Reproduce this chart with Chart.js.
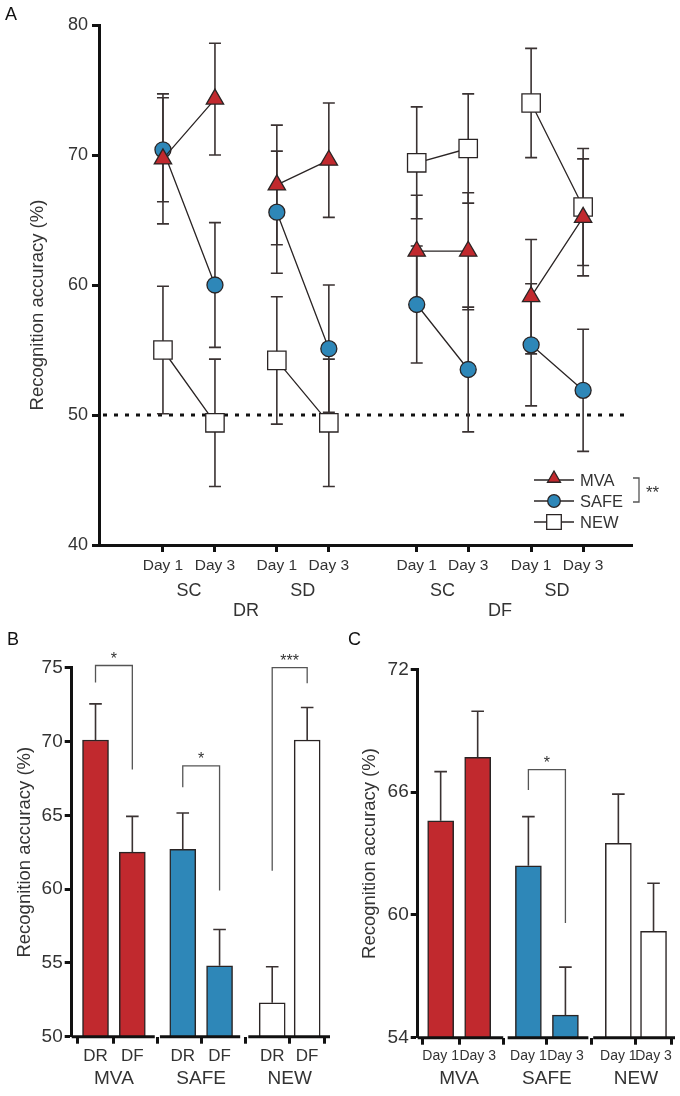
<!DOCTYPE html>
<html>
<head>
<meta charset="utf-8">
<title>Recognition accuracy</title>
<script src="https://cdn.jsdelivr.net/npm/chart.js@4.4.0/dist/chart.umd.min.js"></script>
<style>
  html, body { margin: 0; padding: 0; background: #fff; }
  #wrap { position: relative; width: 680px; height: 1096px; overflow: hidden; }
  .panel { position: absolute; }
  .plabel { position: absolute; font: 18px "Liberation Sans", Arial, sans-serif; color: #111; line-height: 1; }
</style>
</head>
<body>
<div id="wrap">
  <canvas id="chartA" class="panel" width="680" height="625" style="left:0px;top:0px"></canvas>
  <canvas id="chartB" class="panel" width="340" height="476" style="left:0px;top:620px"></canvas>
  <canvas id="chartC" class="panel" width="340" height="476" style="left:340px;top:620px"></canvas>
  <div class="plabel" style="left:5px;top:5px">A</div>
  <div class="plabel" style="left:7px;top:630px">B</div>
  <div class="plabel" style="left:348px;top:630px">C</div>
</div>
<script>
/* ---------- data ---------- */
// Panel A: 8 conditions (DR SC, DR SD, DF SC, DF SD x Day 1 / Day 3)
var aDays = ['Day 1', 'Day 3', 'Day 1', 'Day 3', 'Day 1', 'Day 3', 'Day 1', 'Day 3'];
var aSub = ['SC', 'SD', 'SC', 'SD'];
var aGroups = ['DR', 'DF'];
var aMva = [69.7, 74.3, 67.7, 69.6, 62.6, 62.6, 59.1, 65.2];
var aMvaErr = [5.0, 4.3, 4.6, 4.4, 4.3, 4.5, 4.4, 4.5];
var aSafe = [70.4, 60.0, 65.6, 55.1, 58.5, 53.5, 55.4, 51.9];
var aSafeErr = [4.0, 4.8, 4.7, 4.9, 4.5, 4.8, 4.7, 4.7];
var aNew = [55.0, 49.4, 54.2, 49.4, 69.4, 70.5, 74.0, 66.0];
var aNewErr = [4.9, 4.9, 4.9, 4.9, 4.3, 4.2, 4.2, 4.5];
var aYTicks = [40, 50, 60, 70, 80];
var chance = 50;
var yTitle = 'Recognition accuracy (%)';

// Panel B: DR vs DF
var bGroups = ['MVA', 'SAFE', 'NEW'];
var bLabels = ['DR', 'DF', 'DR', 'DF', 'DR', 'DF'];
var bVals = [70.1, 62.5, 62.7, 54.8, 52.3, 70.1];
var bErr = [2.45, 2.43, 2.46, 2.46, 2.44, 2.2];
var bYTicks = [50, 55, 60, 65, 70, 75];
// brackets: bar i to bar j, top value, leg ends, text
var bSig = [
  { i: 0, j: 1, top: 75.15, endI: 74.0, endJ: 68.1, text: '*' },
  { i: 2, j: 3, top: 68.35, endI: 66.9, endJ: 59.9, text: '*' },
  { i: 4, j: 5, top: 75.0, endI: 61.25, endJ: 73.95, text: '***' }
];

// Panel C: Day 1 vs Day 3
var cGroups = ['MVA', 'SAFE', 'NEW'];
var cLabels = ['Day 1', 'Day 3', 'Day 1', 'Day 3', 'Day 1', 'Day 3'];
var cVals = [64.6, 67.7, 62.4, 55.1, 63.5, 59.2];
var cErr = [2.4, 2.25, 2.4, 2.35, 2.4, 2.35];
var cYTicks = [54, 60, 66, 72];
var cSig = [
  { i: 2, j: 3, top: 67.1, endI: 66.1, endJ: 59.6, text: '*' }
];

/* ---------- layout ---------- */
var aSlots = [0, 1, 2.19, 3.19, 4.88, 5.87, 7.08, 8.08];
var barSlots = [0, 1, 2.37, 3.37, 4.8, 5.75];

var RED = '#c1292e', BLUE = '#2e87b8', INK = '#2a2424', TXT = '#333';
var FONT = '"Liberation Sans", Arial, sans-serif';
Chart.defaults.font.family = FONT;
Chart.defaults.color = TXT;

function errBars(chart, slots, vals, errs, both, cap) {
  var ctx = chart.ctx, xs = chart.scales.x, ys = chart.scales.y;
  ctx.save();
  ctx.strokeStyle = '#3a3232';
  ctx.lineWidth = 1.6;
  for (var i = 0; i < vals.length; i++) {
    var px = xs.getPixelForValue(slots[i]);
    var top = ys.getPixelForValue(vals[i] + errs[i]);
    var bot = ys.getPixelForValue(both ? vals[i] - errs[i] : vals[i]);
    ctx.beginPath();
    ctx.moveTo(px, top); ctx.lineTo(px, bot);
    ctx.moveTo(px - cap, top); ctx.lineTo(px + cap, top);
    if (both) { ctx.moveTo(px - cap, bot); ctx.lineTo(px + cap, bot); }
    ctx.stroke();
  }
  ctx.restore();
}

// rotated y-axis title, centred at x, shifted dy from the plot middle
function drawYTitle(chart, x, dy) {
  var ctx = chart.ctx, area = chart.chartArea;
  ctx.save();
  ctx.translate(x, (area.top + area.bottom) / 2 + dy);
  ctx.rotate(-Math.PI / 2);
  ctx.fillStyle = TXT;
  ctx.font = '18.5px ' + FONT;
  ctx.textAlign = 'center';
  ctx.textBaseline = 'middle';
  ctx.fillText(yTitle, 0, 0);
  ctx.restore();
}

function marker(ctx, style, x, y, r, fill) {
  ctx.beginPath();
  if (style === 'triangle') {
    ctx.moveTo(x, y - r);
    ctx.lineTo(x + r * 0.866, y + r * 0.5);
    ctx.lineTo(x - r * 0.866, y + r * 0.5);
    ctx.closePath();
  } else if (style === 'circle') {
    ctx.arc(x, y, r, 0, Math.PI * 2);
  } else {
    ctx.rect(x - r, y - r, 2 * r, 2 * r);
  }
  ctx.fillStyle = fill;
  ctx.fill();
  ctx.stroke();
}

/* ---------- panel A ---------- */
function pairPoints(vals) {
  var pts = [];
  for (var i = 0; i < vals.length; i++) {
    pts.push({ x: aSlots[i], y: vals[i] });
    // break the line between conditions
    if (i % 2 === 1 && i < vals.length - 1) pts.push({ x: (aSlots[i] + aSlots[i + 1]) / 2, y: null });
  }
  return pts;
}

function lineSet(label, vals, style, radius, fill) {
  return {
    label: label, data: pairPoints(vals), showLine: true, spanGaps: false,
    borderColor: INK, borderWidth: 1.3, tension: 0,
    pointStyle: style, pointRadius: radius, pointHoverRadius: radius,
    pointBackgroundColor: fill, pointBorderColor: INK, pointBorderWidth: 1.3
  };
}

var plugA = {
  id: 'plugA',
  beforeDatasetsDraw: function (chart) {
    var ctx = chart.ctx, area = chart.chartArea, ys = chart.scales.y;
    var y = ys.getPixelForValue(chance);
    ctx.save();
    ctx.strokeStyle = '#111';
    ctx.lineWidth = 3;
    ctx.setLineDash([4, 7]);
    ctx.beginPath();
    ctx.moveTo(area.left + 4, y); ctx.lineTo(area.right - 4, y);
    ctx.stroke();
    ctx.restore();
    errBars(chart, aSlots, aNew, aNewErr, true, 6);
    errBars(chart, aSlots, aSafe, aSafeErr, true, 6);
    errBars(chart, aSlots, aMva, aMvaErr, true, 6);
  },
  afterDraw: function (chart) {
    var ctx = chart.ctx, area = chart.chartArea, xs = chart.scales.x;
    drawYTitle(chart, 38, 20);
    ctx.save();
    ctx.fillStyle = TXT;
    ctx.textAlign = 'center';
    ctx.textBaseline = 'middle';
    ctx.font = '18px ' + FONT;
    for (var k = 0; k < aSub.length; k++) {
      var cx = (xs.getPixelForValue(aSlots[2 * k]) + xs.getPixelForValue(aSlots[2 * k + 1])) / 2;
      ctx.fillText(aSub[k], cx, area.bottom + 46);
    }
    for (var g = 0; g < aGroups.length; g++) {
      var gx = (xs.getPixelForValue(aSlots[4 * g]) + xs.getPixelForValue(aSlots[4 * g + 3])) / 2;
      ctx.fillText(aGroups[g], gx, area.bottom + 66);
    }
    // legend
    var items = [['MVA', 'triangle', 7.5, RED], ['SAFE', 'circle', 6.3, BLUE], ['NEW', 'rect', 7.3, '#fff']];
    var lx0 = area.right - 98, lx1 = area.right - 58;
    ctx.textAlign = 'left';
    ctx.font = '16.5px ' + FONT;
    for (var n = 0; n < items.length; n++) {
      var ly = area.bottom - 65 + n * 21;
      ctx.strokeStyle = INK; ctx.lineWidth = 1.3;
      ctx.beginPath(); ctx.moveTo(lx0, ly); ctx.lineTo(lx1, ly); ctx.stroke();
      marker(ctx, items[n][1], (lx0 + lx1) / 2, items[n][1] === 'triangle' ? ly - 1.5 : ly, items[n][2], items[n][3]);
      ctx.fillStyle = TXT;
      ctx.fillText(items[n][0], area.right - 52, ly + 1);
    }
    // bracket MVA vs SAFE
    var bx = area.right + 7;
    ctx.strokeStyle = '#555'; ctx.lineWidth = 1.3;
    ctx.beginPath();
    ctx.moveTo(bx - 6, area.bottom - 67); ctx.lineTo(bx, area.bottom - 67);
    ctx.lineTo(bx, area.bottom - 43); ctx.lineTo(bx - 6, area.bottom - 43);
    ctx.stroke();
    ctx.fillStyle = TXT;
    ctx.font = '17px ' + FONT;
    ctx.fillText('**', bx + 7, area.bottom - 52);
    ctx.restore();
  }
};

new Chart(document.getElementById('chartA'), {
  type: 'line',
  data: {
    datasets: [
      lineSet('MVA', aMva, 'triangle', 10, RED),
      lineSet('SAFE', aSafe, 'circle', 8, BLUE),
      lineSet('NEW', aNew, 'rect', 13, '#fff')
    ]
  },
  options: {
    responsive: false, animation: false, devicePixelRatio: 1,
    layout: { padding: { top: 25, right: 48, left: 0, bottom: 0 } },
    plugins: { legend: { display: false }, tooltip: { enabled: false } },
    scales: {
      x: {
        type: 'linear', min: -1.23, max: 9.02,
        afterBuildTicks: function (s) { s.ticks = aSlots.map(function (v) { return { value: v }; }); },
        afterFit: function (s) { s.height = 80; },
        ticks: { autoSkip: false, maxRotation: 0, padding: 4, color: TXT, font: { size: 15.5 },
          callback: function (v, i) { return aDays[i]; } },
        grid: { drawOnChartArea: false, drawTicks: true, tickLength: 7, tickWidth: 3, tickColor: '#111' },
        border: { display: true, width: 3, color: '#111' }
      },
      y: {
        min: 40, max: 80,
        afterBuildTicks: function (s) { s.ticks = aYTicks.map(function (v) { return { value: v }; }); },
        afterFit: function (s) { s.width = 99; },
        ticks: { padding: 4, color: TXT, font: { size: 18 } },
        grid: { drawOnChartArea: false, drawTicks: true, tickLength: 7, tickWidth: 3, tickColor: '#111' },
        border: { display: true, width: 3, color: '#111' }
      }
    }
  },
  plugins: [plugA]
});

/* ---------- panels B and C ---------- */
function barChart(id, o) {
  var fills = [RED, RED, BLUE, BLUE, '#fff', '#fff'];
  var plug = {
    id: 'plug' + id,
    afterDatasetsDraw: function (chart) {
      errBars(chart, barSlots, o.vals, o.errs, false, 6.3);
    },
    afterDraw: function (chart) {
      var ctx = chart.ctx, area = chart.chartArea, xs = chart.scales.x, ys = chart.scales.y;
      drawYTitle(chart, o.titleX, 0);
      ctx.save();
      // broken x axis
      ctx.strokeStyle = '#111'; ctx.lineWidth = 3;
      o.segments.forEach(function (sg) {
        ctx.beginPath();
        ctx.moveTo(xs.getPixelForValue(sg[0]), area.bottom);
        ctx.lineTo(xs.getPixelForValue(sg[1]), area.bottom);
        ctx.stroke();
      });
      // group labels
      ctx.fillStyle = TXT; ctx.textAlign = 'center'; ctx.textBaseline = 'middle';
      ctx.font = '19px ' + FONT;
      for (var g = 0; g < o.groups.length; g++) {
        var gx = (xs.getPixelForValue(barSlots[2 * g]) + xs.getPixelForValue(barSlots[2 * g + 1])) / 2;
        ctx.fillText(o.groups[g], gx, area.bottom + o.groupDy);
      }
      // significance brackets
      ctx.strokeStyle = '#555'; ctx.lineWidth = 1.3;
      ctx.font = '16px ' + FONT;
      o.sig.forEach(function (s) {
        var xi = xs.getPixelForValue(barSlots[s.i]), xj = xs.getPixelForValue(barSlots[s.j]);
        var yt = ys.getPixelForValue(s.top);
        ctx.beginPath();
        ctx.moveTo(xi, ys.getPixelForValue(s.endI));
        ctx.lineTo(xi, yt); ctx.lineTo(xj, yt);
        ctx.lineTo(xj, ys.getPixelForValue(s.endJ));
        ctx.stroke();
        ctx.fillText(s.text, (xi + xj) / 2, yt - 6);
      });
      ctx.restore();
    }
  };
  return new Chart(document.getElementById(id), {
    type: 'bar',
    data: {
      datasets: [{
        data: o.vals.map(function (v, i) { return { x: barSlots[i], y: v }; }),
        backgroundColor: fills, borderColor: INK, borderWidth: 1.5,
        barThickness: 26, base: o.min
      }]
    },
    options: {
      responsive: false, animation: false, devicePixelRatio: 1,
      layout: { padding: { top: o.top, right: o.right, left: 0, bottom: 0 } },
      plugins: { legend: { display: false }, tooltip: { enabled: false } },
      scales: {
        x: {
          type: 'linear', min: o.xmin, max: o.xmax, offset: false,
          afterBuildTicks: function (s) { s.ticks = barSlots.map(function (v) { return { value: v }; }); },
          afterFit: function (s) { s.height = o.xh; },
          ticks: { autoSkip: false, maxRotation: 0, padding: o.xpad, color: TXT, font: { size: o.xfont },
            callback: function (v, i) { return o.labels[i]; } },
          grid: { drawOnChartArea: false, drawTicks: true, tickLength: 7, tickWidth: 3, tickColor: '#111' },
          border: { display: false }
        },
        y: {
          min: o.min, max: o.max,
          afterBuildTicks: function (s) { s.ticks = o.yticks.map(function (v) { return { value: v }; }); },
          afterFit: function (s) { s.width = o.yw; },
          ticks: { padding: 2, color: TXT, font: { size: 19 } },
          grid: { drawOnChartArea: false, drawTicks: true, tickLength: 7, tickWidth: 3, tickColor: '#111' },
          border: { display: true, width: 3, color: '#111' }
        }
      }
    },
    plugins: [plug]
  });
}

barChart('chartB', {
  vals: bVals, errs: bErr, labels: bLabels, groups: bGroups, sig: bSig, yticks: bYTicks,
  min: 50, max: 75, xmin: -0.647, xmax: 6.37, yw: 71.7, xh: 59.3, top: 47.7, right: 10,
  xpad: 2, xfont: 17, groupDy: 41.6, titleX: 25,
  segments: [[-0.647, 1.61], [1.75, 3.93], [4.15, 6.37]]
});

barChart('chartC', {
  vals: cVals, errs: cErr, labels: cLabels, groups: cGroups, sig: cSig, yticks: cYTicks,
  min: 54, max: 72, xmin: -0.62, xmax: 6.33, yw: 77.7, xh: 58.3, top: 49.3, right: 5,
  xpad: 3.5, xfont: 14, groupDy: 40.6, titleX: 30,
  segments: [[-0.62, 1.69], [1.81, 3.99], [4.12, 6.33]]
});
</script>
</body>
</html>
